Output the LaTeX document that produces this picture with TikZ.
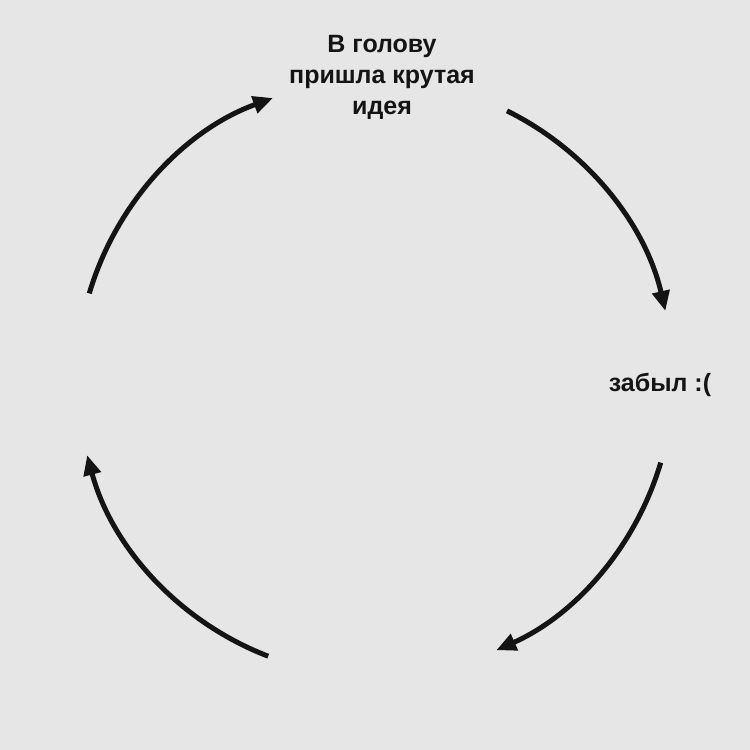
\documentclass[tikz,border=0pt]{standalone}
\usepackage{fontspec}
\setmainfont{Liberation Sans}
\usetikzlibrary{arrows.meta}
\definecolor{bg}{HTML}{E6E6E6}
\begin{document}
\begin{tikzpicture}[x=1pt,y=-1pt,
  arc/.style={line width=5pt,draw=black!92,-{Triangle[length=20pt,width=17pt]}},
  lbl/.style={font=\bfseries\fontsize{25}{31}\selectfont,align=center,text=black!92}]
\fill[bg] (0,0) rectangle (750,750);
\useasboundingbox (0,0) rectangle (750,750);
\coordinate (c) at (375,378);
\node[lbl] (idea) at (382,77) {В голову\\пришла крутая\\идея};
\node[lbl] (forgot) at (660,385) {забыл :(};
\draw[arc] ([shift={(-63.7:298)}]c) arc[start angle=-63.7,end angle=-13,radius=298];
\draw[arc] ([shift={(16.5:298)}]c) arc[start angle=16.5,end angle=66,radius=298];
\draw[arc] ([shift={(111:298)}]c) arc[start angle=111,end angle=165,radius=298];
\draw[arc] ([shift={(-163.5:298)}]c) arc[start angle=-163.5,end angle=-110,radius=298];
\end{tikzpicture}
\end{document}
